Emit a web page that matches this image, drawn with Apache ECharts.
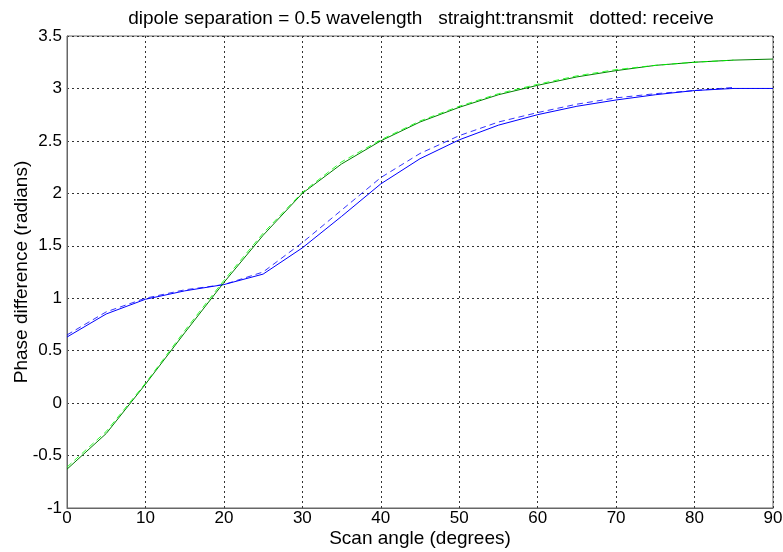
<!DOCTYPE html>
<html>
<head>
<meta charset="utf-8">
<script src="https://cdn.jsdelivr.net/npm/echarts@6/dist/echarts.min.js"></script>
<style>
html,body{margin:0;padding:0;background:#fff;}
#chart{width:783px;height:552px;}
</style>
</head>
<body>
<div id="chart"></div>
<script>
var angles = [0, 5, 10, 15, 20, 25, 30, 35, 40, 45, 50, 55, 60, 65, 70, 75, 80, 85, 90];
var blueTransmit = [0.63, 0.85, 0.99, 1.07, 1.13, 1.23, 1.48, 1.78, 2.09, 2.33, 2.51, 2.65, 2.75, 2.83, 2.89, 2.94, 2.98, 3.00, 3.00];
var blueReceive  = [0.65, 0.87, 1.00, 1.08, 1.13, 1.25, 1.53, 1.84, 2.15, 2.38, 2.55, 2.68, 2.77, 2.85, 2.91, 2.95, 2.98, 3.01];
var greenTransmit = [-0.63, -0.29, 0.18, 0.67, 1.15, 1.60, 2.00, 2.28, 2.50, 2.68, 2.82, 2.94, 3.03, 3.11, 3.17, 3.22, 3.25, 3.27, 3.28];
var greenReceive  = [-0.61, -0.27, 0.19, 0.69, 1.17, 1.62, 2.01, 2.30, 2.51, 2.69, 2.83, 2.95, 3.04, 3.12, 3.18, 3.22, 3.25, 3.27];
var xTicks = [0, 10, 20, 30, 40, 50, 60, 70, 80, 90];
var yTicks = [-1, -0.5, 0, 0.5, 1, 1.5, 2, 2.5, 3, 3.5];

function pairs(vals) {
  return vals.map(function (v, i) { return [angles[i], v]; });
}

var FONT = 'Liberation Sans, Arial, sans-serif';
var chart = echarts.init(document.getElementById('chart'));
chart.setOption({
  animation: false,
  backgroundColor: '#fff',
  title: {
    text: 'dipole separation = 0.5 wavelength   straight:transmit   dotted: receive',
    left: 416, top: 4, textAlign: 'center',
    textStyle: {fontFamily: FONT, fontSize: 19, fontWeight: 'normal', color: '#000'}
  },
  grid: {left: 67, right: 10, top: 36, bottom: 44, containLabel: false, outerBoundsMode: 'none',
         show: true, borderColor: '#666', borderWidth: 1, backgroundColor: 'transparent'},
  xAxis: {
    type: 'value', min: xTicks[0], max: xTicks[xTicks.length - 1], interval: 10,
    name: 'Scan angle (degrees)', nameLocation: 'middle', nameGap: 21, nameMoveOverlap: false,
    nameTextStyle: {fontFamily: FONT, fontSize: 19, color: '#000'},
    axisLine: {show: true, onZero: false, lineStyle: {color: '#666'}},
    axisTick: {show: false},
    axisLabel: {fontFamily: FONT, fontSize: 17, color: '#000', margin: 2},
    splitLine: {show: true, lineStyle: {color: '#333', type: [2, 3], width: 1}}
  },
  yAxis: {
    type: 'value', min: yTicks[0], max: yTicks[yTicks.length - 1], interval: 0.5,
    name: 'Phase difference (radians)', nameLocation: 'middle', nameGap: 36, nameMoveOverlap: false,
    nameTextStyle: {fontFamily: FONT, fontSize: 19, color: '#000'},
    axisLine: {show: true, onZero: false, lineStyle: {color: '#666'}},
    axisTick: {show: false},
    axisLabel: {fontFamily: FONT, fontSize: 17, color: '#000', margin: 5},
    splitLine: {show: true, lineStyle: {color: '#333', type: [2, 3], width: 1}}
  },
  series: [
    {type: 'line', data: pairs(blueTransmit), showSymbol: false, lineStyle: {color: '#0000ff', width: 1}},
    {type: 'line', data: pairs(blueReceive), showSymbol: false, lineStyle: {color: '#0000ff', width: 1, type: [6, 4], opacity: 0.8}},
    {type: 'line', data: pairs(greenTransmit), showSymbol: false, lineStyle: {color: '#008000', width: 1}},
    {type: 'line', data: pairs(greenReceive), showSymbol: false, lineStyle: {color: '#00ff00', width: 1, type: [6, 4], opacity: 0.8}}
  ]
});
</script>
</body>
</html>
